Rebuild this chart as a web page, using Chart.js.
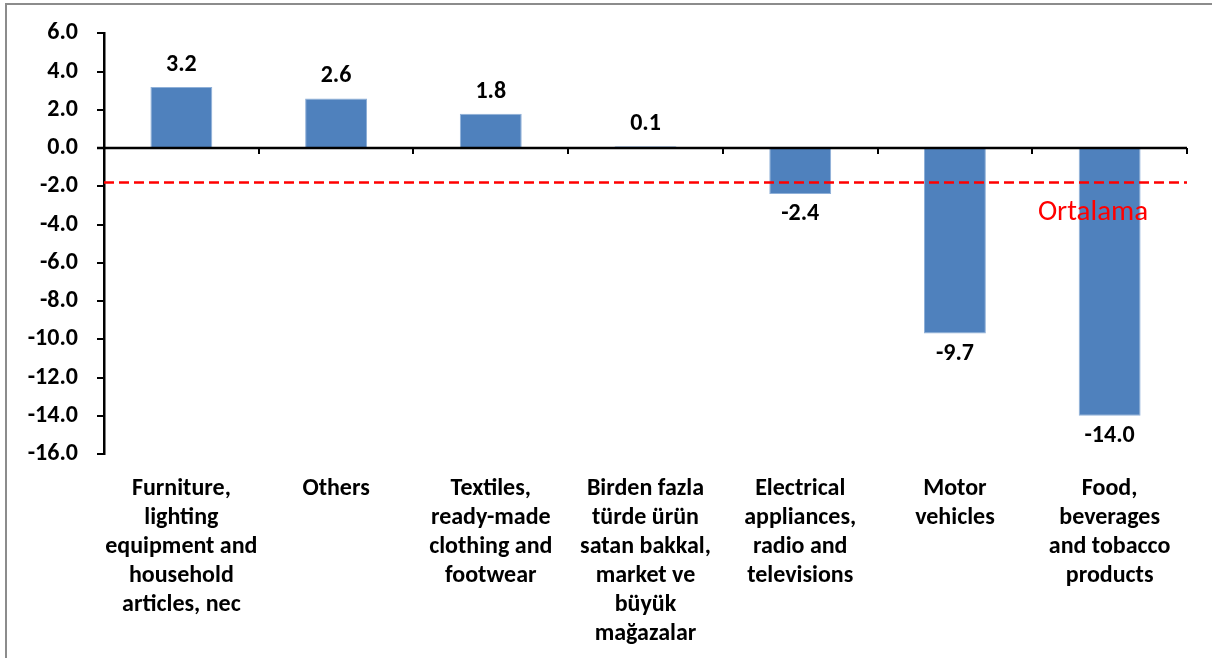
<!DOCTYPE html>
<html>
<head>
<meta charset="utf-8">
<script src="https://cdn.jsdelivr.net/npm/chart.js@4/dist/chart.umd.min.js"></script>
<style>
html,body{margin:0;padding:0;background:#fff;}
#wrap{position:relative;width:1212px;height:658px;overflow:hidden;}
#frame{position:absolute;left:5px;top:3px;width:1220px;height:700px;border-left:2px solid #8c8c8c;border-top:2px solid #8c8c8c;box-sizing:border-box;pointer-events:none;}
canvas{position:absolute;left:0;top:0;}
</style>
</head>
<body>
<div id="wrap"><canvas id="c" width="1212" height="658"></canvas><div id="frame"></div></div>
<script>
const categories = [
  ["Furniture,", "lighting", "equipment and", "household", "articles, nec"],
  ["Others"],
  ["Textiles,", "ready-made", "clothing and", "footwear"],
  ["Birden fazla", "türde ürün", "satan bakkal,", "market ve", "büyük", "mağazalar"],
  ["Electrical", "appliances,", "radio and", "televisions"],
  ["Motor", "vehicles"],
  ["Food,", "beverages", "and tobacco", "products"]
];
const values = [3.2, 2.6, 1.8, 0.1, -2.4, -9.7, -14.0];
const averageValue = [-1.8];
const averageLabel = ["Ortalama"];
const yTicks = [6, 4, 2, 0, -2, -4, -6, -8, -10, -12, -14, -16];

const FONT = "Carlito, Lato, 'Liberation Sans', sans-serif";

const overlay = {
  id: 'overlay',
  afterDatasetsDraw(chart) {
    const ctx = chart.ctx;
    const y = chart.scales.y;
    const ca = chart.chartArea;
    const y0 = y.getPixelForValue(0);
    ctx.save();
    // zero axis line
    ctx.strokeStyle = '#000';
    ctx.lineWidth = 2.5;
    ctx.beginPath();
    ctx.moveTo(ca.left - 7, y0);
    ctx.lineTo(ca.right, y0);
    ctx.stroke();
    // category boundary ticks
    const n = categories.length;
    const step = (ca.right - ca.left) / n;
    ctx.lineWidth = 2;
    for (let i = 1; i <= n; i++) {
      const px = Math.round(ca.left + i * step);
      ctx.beginPath();
      ctx.moveTo(px, y0);
      ctx.lineTo(px, y0 + 6);
      ctx.stroke();
    }
    // average dashed line
    const ya = y.getPixelForValue(averageValue[0]);
    ctx.strokeStyle = '#ff0000';
    ctx.lineWidth = 2.5;
    ctx.setLineDash([10, 5]);
    ctx.beginPath();
    ctx.moveTo(ca.left, ya);
    ctx.lineTo(ca.right, ya);
    ctx.stroke();
    ctx.setLineDash([]);
    ctx.fillStyle = '#ff0000';
    ctx.font = "29px " + FONT;
    ctx.textAlign = 'center';
    ctx.textBaseline = 'middle';
    ctx.fillText(averageLabel[0], ca.right - 94, ya + 30);
    // data labels
    const meta = chart.getDatasetMeta(0);
    ctx.fillStyle = '#000';
    ctx.font = "bold 24px " + FONT;
    meta.data.forEach((el, i) => {
      const v = values[i];
      const ty = v >= 0 ? el.y - 22 : el.y + 20;
      ctx.fillText(v.toFixed(1), el.x, ty);
    });
    ctx.restore();
  }
};

new Chart(document.getElementById('c'), {
  type: 'bar',
  data: {
    labels: categories,
    datasets: [{
      data: values,
      backgroundColor: '#4F81BD',
      borderColor: '#8fb0d8',
      borderWidth: 1,
      categoryPercentage: 1,
      barPercentage: 0.4
    }]
  },
  options: {
    responsive: false,
    animation: false,
    layout: { padding: { top: 33, right: 25, left: 0, bottom: 0 } },
    plugins: { legend: { display: false }, tooltip: { enabled: false } },
    scales: {
      x: {
        grid: { display: false, drawTicks: false },
        border: { display: false },
        ticks: {
          color: '#000',
          font: { family: FONT, size: 24, weight: 'bold', lineHeight: 1.21 },
          padding: 20,
          maxRotation: 0,
          autoSkip: false
        },
        afterFit(s) { s.height = 204; }
      },
      y: {
        min: -16, max: 6,
        afterBuildTicks(s) { s.ticks = yTicks.map(v => ({ value: v })); },
        grid: { drawOnChartArea: false, drawTicks: true, tickLength: 7, color: '#000', lineWidth: 2 },
        border: { display: true, color: '#000', width: 2.5 },
        ticks: {
          color: '#000',
          font: { family: FONT, size: 24, weight: 'bold' },
          padding: 19,
          callback: v => Number(v).toFixed(1)
        },
        afterFit(s) { s.width = 104; }
      }
    }
  },
  plugins: [overlay]
});
</script>
</body>
</html>
